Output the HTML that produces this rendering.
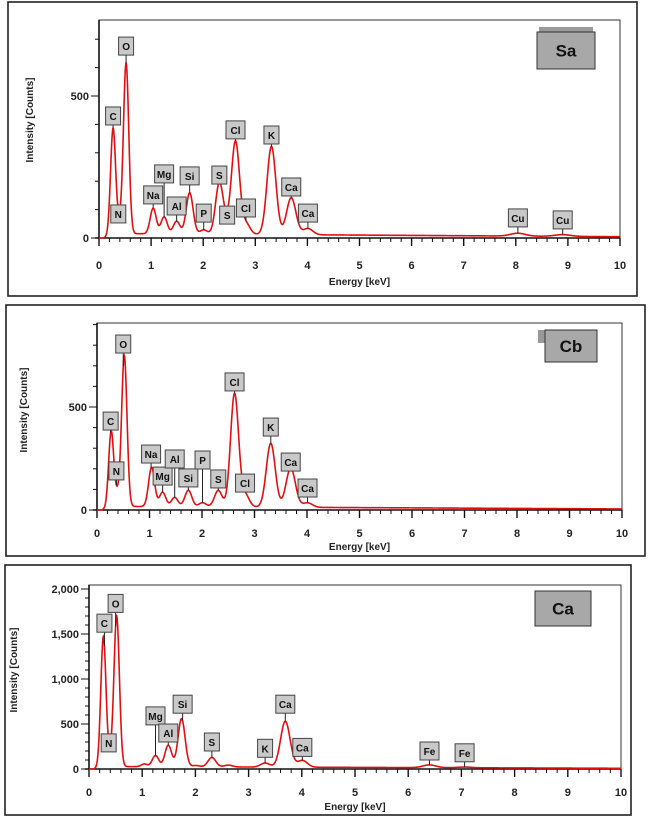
<!DOCTYPE html>
<html><head><meta charset="utf-8">
<style>
html,body{margin:0;padding:0;background:#fff;}
svg{display:block;font-family:"Liberation Sans",sans-serif;}
</style></head>
<body>
<svg id="fig" width="649" height="817" viewBox="0 0 649 817"></svg>
<script>
// ---------- Panel Sa data ----------
const saPeakE = [0.27,0.39,0.52,1.04,1.25,1.49,1.74,2.01,2.31,2.46,2.62,2.82,3.31,3.69,4.01,8.04,8.9];
const saPeakH = [375,35,600,90,60,45,145,15,180,28,325,38,310,130,22,10,6];
const saBg = 16;
const saLabels = ["C","N","O","Na","Mg","Al","Si","P","S","S","Cl","Cl","K","Ca","Ca","Cu","Cu"];
const saLabelE = [0.27,0.37,0.52,1.04,1.25,1.49,1.74,2.01,2.31,2.46,2.62,2.82,3.31,3.69,4.01,8.04,8.9];
const saLabelCount = [398,53,644,120,194,81,187,56,190,49,349,74,331,148,56,39,32];
const saYTicks = [0,500];

// ---------- Panel Cb data ----------
const cbPeakE = [0.27,0.39,0.52,1.04,1.25,1.48,1.74,2.01,2.31,2.62,2.82,3.31,3.69,4.01];
const cbPeakH = [370,55,730,190,70,45,80,20,80,550,60,310,190,22];
const cbBg = 18;
const cbLabels = ["C","N","O","Na","Mg","Al","Si","P","S","Cl","Cl","K","Ca","Ca"];
const cbLabelE = [0.26,0.37,0.5,1.03,1.25,1.48,1.74,2.01,2.31,2.62,2.82,3.31,3.69,4.01];
const cbLabelCount = [388,146,762,228,121,204,112,199,107,578,87,359,189,63];
const cbYTicks = [0,500];

// ---------- Panel Ca data ----------
const caPeakE = [0.27,0.39,0.52,1.04,1.25,1.49,1.74,2.01,2.31,2.62,3.31,3.69,4.01,6.4,7.06];
const caPeakH = [1450,100,1670,30,125,240,535,15,105,20,45,510,75,30,8];
const caBg = 28;
const caLabels = ["C","N","O","Mg","Al","Si","S","K","Ca","Ca","Fe","Fe"];
const caLabelE = [0.29,0.37,0.5,1.25,1.49,1.76,2.31,3.31,3.69,4.01,6.4,7.06];
const caLabelCount = [1520,190,1740,490,300,620,200,130,620,140,100,80];
const caYTicks = [0,500,1000,1500,2000];
const caYTickText = ["0","500","1,000","1,500","2,000"];

const xTicks = [0,1,2,3,4,5,6,7,8,9,10];

const NS = "http://www.w3.org/2000/svg";
const svg = document.getElementById("fig");
function mk(tag, attrs, parent){
  const e = document.createElementNS(NS, tag);
  for (const k in attrs) e.setAttribute(k, attrs[k]);
  (parent||svg).appendChild(e);
  return e;
}

function drawPanel(cfg){
  const g = mk("g", {});
  
  
  const fr = mk("rect", {x:cfg.fx, y:cfg.fy, width:cfg.fw, height:cfg.fh, fill:"#fff", stroke:"#222", "stroke-width":1.6}, g);
  
  
  const xs = e => cfg.x0 + (cfg.x1 - cfg.x0) * e / 10;
  const ys = c => cfg.yb - c * cfg.ppc;
  const pb = mk("rect", {x:cfg.x0, y:cfg.yt, width:cfg.x1-cfg.x0, height:cfg.yb-cfg.yt, fill:"none", stroke:"#333", "stroke-width":1}, g);
  
  
  const xa = mk("line", {x1:cfg.x0-4, y1:cfg.yb, x2:cfg.x1, y2:cfg.yb, stroke:"#111", "stroke-width":1.6}, g);
  
  
  for (let i = 0; i <= 50; i++){
    const e = i * 0.2, major = i % 5 === 0;
    mk("line", {x1:xs(e), y1:cfg.yb, x2:xs(e), y2:cfg.yb + (major ? 8 : 4), stroke:"#111", "stroke-width":major?1.4:1}, g);
  }
  xTicks.forEach(t => {
    const tx = mk("text", {x:xs(t), y:cfg.tickY, "font-size":11, "font-weight":"bold", "text-anchor":"middle", fill:"#222"}, g);
    tx.textContent = t;
    
    
  });
  const xl = mk("text", {x:(cfg.x0+cfg.x1)/2, y:cfg.xlabY, "font-size":10, "font-weight":"bold", "text-anchor":"middle", fill:"#222"}, g);
  xl.textContent = "Energy [keV]";
  
  
  const ya = mk("line", {x1:cfg.x0, y1:cfg.yt, x2:cfg.x0, y2:cfg.yb, stroke:"#111", "stroke-width":1.6}, g);
  
  
  for (let c = 0; ys(c) >= cfg.yt - 0.5; c += cfg.minor){
    const major = c % 500 === 0;
    mk("line", {x1:cfg.x0 - (major ? 8 : 4), y1:ys(c), x2:cfg.x0, y2:ys(c), stroke:"#111", "stroke-width":1}, g);
  }
  cfg.yTicks.forEach((t, i) => {
    const tx = mk("text", {x:cfg.x0 - 10, y:ys(t) + 4, "font-size":11, "font-weight":"bold", "text-anchor":"end", fill:"#222"}, g);
    tx.textContent = cfg.yTickText ? cfg.yTickText[i] : t;
    
    
  });
  const yl = mk("text", {x:cfg.ylabX, y:cfg.ylabYc, "font-size":10, "font-weight":"bold", "text-anchor":"middle", fill:"#222", transform:`rotate(-90 ${cfg.ylabX} ${cfg.ylabYc})`}, g);
  yl.textContent = "Intensity [Counts]";
  
  
  const spec = e => {
    let v = cfg.bg * Math.min(1, Math.max(0, (e - 0.08) / 0.3)) * (1 - e / 14);
    for (let i = 0; i < cfg.pe.length; i++){
      const s = 0.045 + 0.012 * cfg.pe[i];
      v += cfg.ph[i] * Math.exp(-0.5 * Math.pow((e - cfg.pe[i]) / s, 2));
    }
    return v;
  };
  let d = "";
  for (let i = 0; i <= 2000; i++){
    const e = i * 0.005;
    d += (i ? "L" : "M") + xs(e).toFixed(2) + "," + ys(spec(e)).toFixed(2);
  }
  const p = mk("path", {d:d, fill:"none", stroke:"#e01010", "stroke-width":1.6}, g);
  
  
  cfg.labels.forEach((lab, i) => {
    const cx = xs(cfg.le[i]), by = ys(cfg.lc[i]);
    const w = lab.length > 1 ? 19 : 15, h = 18;
    const lg = mk("g", {}, g);
    
    
    const cy = ys(spec(cfg.le[i]));
    if (cy > by) mk("line", {x1:cx, y1:by, x2:cx, y2:cy, stroke:"#222", "stroke-width":1}, lg);
    mk("rect", {x:cx - w/2, y:by - h, width:w, height:h, fill:"#c9c9c9", stroke:"#444", "stroke-width":1}, lg);
    const t = mk("text", {x:cx, y:by - 5, "font-size":10, "font-weight":"bold", "text-anchor":"middle", fill:"#111"}, lg);
    t.textContent = lab;
  });
  const sg = mk("g", {}, g);
  
  
  if (cfg.strip) mk("rect", cfg.strip, sg);
  mk("rect", {x:cfg.bx, y:cfg.by, width:cfg.bw, height:cfg.bh, fill:"#a8a8a8", stroke:"#333", "stroke-width":1}, sg);
  const st = mk("text", {x:cfg.bx + cfg.bw/2, y:cfg.by + cfg.bh/2 + 6, "font-size":17, "font-weight":"bold", "text-anchor":"middle", fill:"#111"}, sg);
  st.textContent = cfg.title;
}

drawPanel({name:"sa", title:"Sa", fx:8, fy:2, fw:629, fh:294, x0:99, x1:620, yt:20, yb:238, ppc:0.284, minor:100,
  tickY:269, xlabY:285, ylabX:33, ylabYc:120, yTicks:saYTicks,
  pe:saPeakE, ph:saPeakH, bg:saBg, labels:saLabels, le:saLabelE, lc:saLabelCount,
  bx:537, by:32, bw:58, bh:37, strip:{x:539, y:27, width:54, height:5, fill:"#999"}});
drawPanel({name:"cb", title:"Cb", fx:6, fy:305, fw:639, fh:251, x0:97, x1:622, yt:323, yb:510, ppc:0.206, minor:100,
  tickY:537, xlabY:550, ylabX:27, ylabYc:410, yTicks:cbYTicks,
  pe:cbPeakE, ph:cbPeakH, bg:cbBg, labels:cbLabels, le:cbLabelE, lc:cbLabelCount,
  bx:545, by:330, bw:52, bh:32, strip:{x:538, y:330, width:7, height:13, fill:"#999"}});
drawPanel({name:"ca", title:"Ca", fx:5, fy:565, fw:626, fh:250, x0:89, x1:621, yt:585, yb:769, ppc:0.09, minor:100,
  tickY:796, xlabY:810, ylabX:17, ylabYc:670, yTicks:caYTicks, yTickText:caYTickText,
  pe:caPeakE, ph:caPeakH, bg:caBg, labels:caLabels, le:caLabelE, lc:caLabelCount,
  bx:535, by:591, bw:56, bh:35, strip:null});
</script>
</body></html>
